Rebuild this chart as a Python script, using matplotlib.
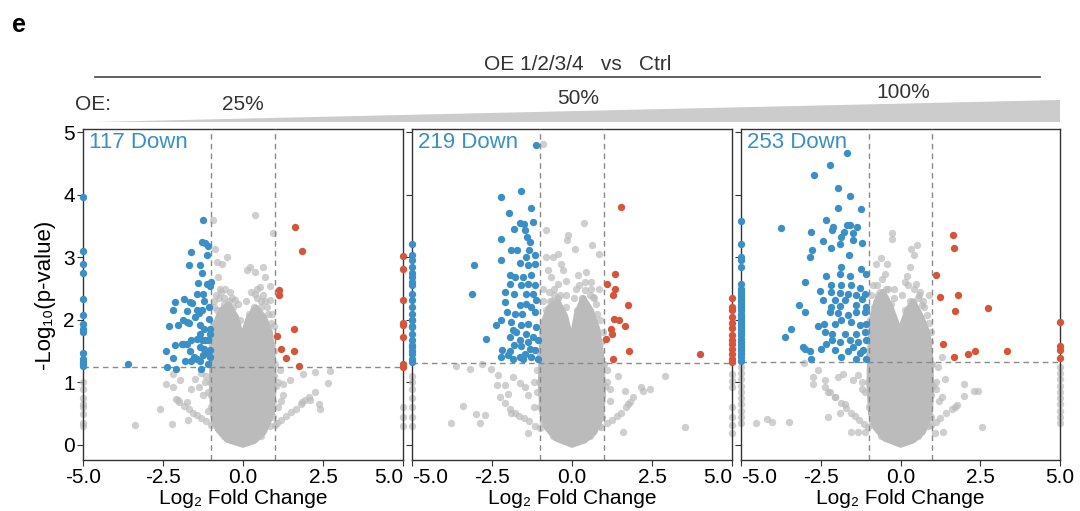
import numpy as np
import matplotlib
matplotlib.use("Agg")
import matplotlib.pyplot as plt
from matplotlib.patches import Polygon
from matplotlib.lines import Line2D

plt.rcParams["font.family"] = ["Liberation Sans", "DejaVu Sans"]

# colores
azul = "#3a8fc6"
rojo = "#d6553a"
gris = "#bbbbbb"
gris_linea = "#8a8a8a"

# ---------------- datos (leídos a ojo de la figura) ----------------
titulos = ["117 Down", "219 Down", "253 Down"]
umbral_y = [1.25, 1.31, 1.32]

# panel 1 (OE 25%)
p1_down_x = [-1.24, -1.29, -1.19, -1.09, -1.14, -1.63, -1.68, -1.35, -1.28, -1.40, -1.14, -1.03, -1.01,
             -1.45, -1.24, -1.22, -1.84, -2.14, -1.66, -1.58, -1.45, -1.38, -1.29, -1.06, -2.18, -1.74,
             -1.50, -1.06, -1.87, -1.74, -1.69, -2.31, -2.02, -1.35, -1.22, -1.03, -1.34, -1.03, -1.45,
             -1.29, -1.19, -1.09, -1.61, -1.87, -1.76, -1.92, -2.14, -1.35, -1.22, -1.03, -2.42, -1.66,
             -1.14, -2.20, -1.52, -1.45, -1.24, -1.02, -1.82, -1.61, -1.35, -1.09, -2.36, -2.08, -1.32,
             -3.59, -5, -5, -5, -5, -5, -5, -5, -5, -5, -5, -5, -5, -5, -5]
p1_down_y = [3.59, 3.24, 3.23, 3.18, 3.04, 3.09, 2.88, 2.88, 2.75, 2.59, 2.58, 2.54, 2.60,
             2.42, 2.42, 2.30, 2.33, 2.29, 2.29, 2.27, 2.15, 2.11, 2.15, 2.21, 2.15, 2.14,
             2.05, 2.02, 2.00, 1.97, 1.95, 1.90, 1.91, 1.91, 1.86, 1.86, 1.78, 1.78, 1.70,
             1.68, 1.68, 1.68, 1.68, 1.62, 1.62, 1.62, 1.60, 1.57, 1.54, 1.52, 1.50, 1.50,
             1.49, 1.39, 1.41, 1.38, 1.44, 1.41, 1.35, 1.35, 1.35, 1.30, 1.25, 1.22, 1.22,
             1.30, 3.97, 3.10, 2.90, 2.75, 2.33, 2.07, 1.93, 1.85, 1.80, 1.47, 1.38, 1.33, 1.30, 1.27]
p1_up_x = [1.61, 1.84, 1.11, 1.14, 1.60, 1.05, 1.19, 1.58, 1.33, 1.74, 5, 5, 5, 5, 5, 5, 5, 5]
p1_up_y = [3.49, 3.10, 2.48, 2.39, 1.86, 1.74, 1.53, 1.50, 1.39, 1.26, 3.02, 2.82, 2.31, 1.95, 1.91, 1.72, 1.30, 1.25]
p1_ns_x = [-0.93, 0.38, 0.95, -0.88, -0.51, -0.82, -0.67, 0.22, 0.11, 0.64, 0.38, 0.68, -0.77, 0.53, 0.85,
           0.38, -0.72, -0.41, -0.25, 0.85, 0.74, -0.51, -0.72, -0.85, -0.60, 0.20, 0.55, 0.90, -0.90, 0.45,
           -0.95, -0.98, -0.96, -0.99, 0.96, 0.97, 0.98, 0.94, -0.10, 0.05, -0.30, 0.30,
           -0.90, -0.70, -0.55, -0.35, -0.15, 0.10, 0.25, 0.45, 0.62, 0.78, 0.88, 0.90, 1.00, 1.02, 0.95,
           0.85, 0.55, -0.60, -0.90, -1.00, -1.02, -1.00, -0.95, -0.80, -0.60, 0.55, 0.35, -0.45, 0.00,
           -0.10, 0.10, 1.10, -1.10, -1.20, 1.20, -0.25, 0.20, 0.70, -0.75,
           -2.18, -2.42, -2.18, -1.97, -1.64, -1.37, -1.24, -1.76, -2.02, -2.60, -3.38, -2.21, -1.71, 1.26,
           1.47, 1.89, 2.25, 2.72, 2.67, 2.25, 2.10, 1.84, 2.39, 2.41, 1.26, 1.00, -1.15, -1.30, 1.15, 1.10,
           -1.10, -1.50,
           -1.00, -1.15, -1.30, -1.45, -1.56, -1.70, -1.85, -2.00, -2.10,
           1.05, 1.20, 1.35, 1.50, 1.65, 1.80, 1.95, 2.05,
           -5, -5, -5, -5, -5, -5, -5, -5, 5, 5, 5]
p1_ns_y = [3.59, 3.67, 3.39, 3.14, 3.00, 2.93, 2.90, 2.85, 2.79, 2.84, 2.77, 2.69, 2.69, 2.53, 2.54,
           2.42, 2.50, 2.45, 2.31, 2.31, 2.21, 2.21, 2.05, 2.40, 2.35, 2.10, 2.20, 2.10, 2.20, 2.35,
           1.95, 1.60, 1.20, 0.80, 1.90, 1.50, 1.10, 0.70, 2.00, 1.75, 2.20, 2.15,
           2.30, 2.45, 2.50, 2.35, 2.25, 2.30, 2.45, 2.50, 2.40, 2.10, 1.95, 1.60, 1.30, 0.95, 0.45,
           0.30, 0.15, 0.15, 0.35, 0.60, 1.00, 1.40, 1.75, 2.15, 2.25, 2.30, 2.20, 2.30, 1.80,
           1.60, 1.65, 1.00, 0.85, 1.00, 0.70, 2.05, 2.05, 2.30, 2.35,
           1.14, 0.98, 0.93, 1.04, 0.90, 0.93, 0.80, 0.69, 0.72, 0.57, 0.32, 0.33, 0.40, 0.98,
           1.04, 1.14, 1.17, 1.19, 0.99, 0.85, 0.72, 0.69, 0.66, 0.57, 0.80, 0.32, 1.10, 1.15, 1.20, 0.60,
           0.55, 1.05,
           0.32, 0.38, 0.43, 0.48, 0.51, 0.57, 0.63, 0.69, 0.73,
           0.35, 0.40, 0.46, 0.52, 0.58, 0.65, 0.72, 0.76,
           1.00, 0.90, 0.75, 0.65, 0.60, 0.50, 0.35, 0.30, 0.60, 0.45, 0.30]
# zona densa (contorno de la nube gris)
p1_core_x = [0, -0.5, -0.8, -0.93, -0.98, -0.96, -0.88, -0.7, -0.45, -0.22, -0.03, 0.15, 0.40, 0.65,
             0.85, 0.94, 0.96, 0.91, 0.65, 0.35]
p1_core_y = [0, 0.08, 0.25, 0.45, 0.9, 1.45, 1.9, 2.15, 2.25, 2.05, 1.7, 2.0, 2.2, 2.05,
             1.8, 1.4, 0.9, 0.5, 0.2, 0.06]

# panel 2 (OE 50%)
p2_down_x = [-1.14, -1.58, -2.21, -1.29, -1.98, -1.22, -1.81, -1.64, -1.51, -1.46, -1.40, -2.23, -1.32,
             -1.90, -1.73, -1.35, -1.43, -1.17, -2.21, -1.64, -1.38, -1.17, -3.07, -1.95, -1.79, -1.53,
             -1.27, -1.95, -1.58, -1.38, -1.17, -2.10, -1.81, -3.13, -1.43, -1.22, -1.11, -2.10, -1.64,
             -1.43, -1.27, -1.79, -2.04, -1.56, -1.17, -2.21, -2.39, -1.90, -1.58, -1.38, -1.11, -1.84,
             -1.74, -1.43, -1.95, -1.22, -2.70, -1.64, -1.38, -1.06, -1.82, -1.58, -1.32, -2.18, -1.95,
             -1.17, -1.46, -2.21, -2.00, -1.64, -1.27, -1.06, -1.53, -1.84,
             -5, -5, -5, -5, -5, -5, -5, -5, -5, -5, -5, -5, -5, -5, -5, -5, -5, -5, -5, -5, -5, -5, -5, -5]
p2_down_y = [4.79, 4.06, 3.97, 3.78, 3.70, 3.56, 3.45, 3.54, 3.53, 3.43, 3.32, 3.29, 3.24,
             3.11, 3.11, 3.11, 3.00, 3.03, 2.95, 2.91, 2.87, 2.90, 2.87, 2.71, 2.69, 2.69,
             2.71, 2.58, 2.55, 2.58, 2.55, 2.45, 2.42, 2.42, 2.42, 2.42, 2.31, 2.29, 2.23,
             2.26, 2.21, 2.10, 2.13, 2.10, 2.13, 1.99, 1.91, 1.97, 1.91, 1.94, 1.89, 1.84,
             1.81, 1.78, 1.73, 1.73, 1.69, 1.68, 1.65, 1.68, 1.60, 1.58, 1.54, 1.52, 1.51,
             1.52, 1.46, 1.41, 1.44, 1.40, 1.40, 1.38, 1.37, 1.38,
             3.22, 3.03, 2.85, 2.69, 2.55, 2.42, 2.31, 2.21, 1.99, 1.89, 1.78, 1.68, 1.57, 1.46, 1.38, 1.33,
             2.00, 2.10, 1.90, 1.60, 1.50, 2.60, 2.75, 2.95]
p2_up_x = [1.54, 1.33, 1.08, 1.35, 1.28, 1.75, 1.31, 1.46, 1.65, 1.21, 1.25, 1.07, 1.77, 1.28, 3.99,
           5, 5, 5, 5, 5, 5, 5, 5, 5, 5, 5, 5, 5]
p2_up_y = [3.80, 2.74, 2.58, 2.50, 2.39, 2.23, 2.02, 1.99, 1.90, 1.86, 1.77, 1.69, 1.51, 1.37, 1.45,
           2.35, 2.21, 2.15, 2.05, 1.95, 1.87, 1.75, 1.68, 1.62, 1.53, 1.45, 1.38, 1.33]
p2_ns_x = [-0.91, 0.36, -0.13, -0.80, -0.16, 0.08, 0.64, 0.83, -0.44, -0.59, -0.75, -0.80, -0.33, -0.28,
           -0.65, 0.19, 0.45, -0.18, -0.44, 0.14, 0.40, 0.66, 0.79, -0.90, -0.55, 0.85, 0.30, -0.20, 0.60,
           -0.95, -0.98, -0.96, 0.96, 0.97, 0.95,
           -0.90, -0.72, -0.55, -0.38, -0.20, 0.05, 0.22, 0.40, 0.58, 0.75, 0.88, 0.92, 1.00, 1.02, 0.95,
           0.85, 0.55, -0.60, -0.90, -1.00, -1.02, -1.00, -0.95, -0.80, -0.62, 0.55, 0.30, -0.45, 0.00,
           -0.10, 0.10, 1.10, -1.10, -1.20, 1.20, -0.30, 0.15, 0.70, -0.70,
           -3.61, -3.20, -2.54, -2.81, -2.31, -1.84, -2.33, -2.10, -1.64, -2.00, -1.48, -1.38, -3.41, -2.99,
           -2.71, -3.77, -2.89, -1.90, -1.38, 2.90, 2.17, 2.43, 2.22, 1.65, 1.75, 1.59, 3.52, 0.60, 1.20,
           1.10, -1.10, 1.45, -1.20,
           -1.00, -1.17, -1.35, -1.50, -1.65, -1.79, -1.95, -2.10, -2.26,
           0.92, 1.10, 1.25, 1.40, 1.54, 1.68, 1.80, 1.91,
           -5, -5, -5, -5, -5, -5, -5, 5, 5, 5, 5, 5, 5, 5]
p2_ns_y = [4.81, 3.55, 3.35, 3.43, 3.27, 3.14, 3.19, 3.05, 3.06, 3.00, 2.79, 3.00, 2.90, 2.79,
           2.69, 2.71, 2.77, 2.62, 2.58, 2.50, 2.47, 2.36, 2.10, 2.50, 2.40, 2.50, 2.30, 2.40, 2.60,
           1.90, 1.40, 0.90, 1.80, 1.30, 0.80,
           2.30, 2.45, 2.50, 2.40, 2.20, 2.35, 2.55, 2.60, 2.50, 2.25, 2.00, 1.65, 1.30, 0.95, 0.45,
           0.30, 0.15, 0.15, 0.35, 0.60, 1.00, 1.45, 1.80, 2.15, 2.30, 2.40, 2.35, 2.35, 1.70,
           1.55, 1.75, 1.00, 0.85, 1.00, 0.70, 2.10, 2.15, 2.35, 2.30,
           1.27, 1.21, 1.22, 1.29, 1.12, 1.09, 0.96, 0.96, 0.99, 0.82, 0.93, 0.80, 0.62, 0.49,
           0.48, 0.35, 0.35, 0.51, 0.19, 1.11, 0.93, 0.90, 0.86, 0.87, 0.66, 0.21, 0.28, 1.05, 0.90,
           1.20, 1.20, 1.10, 0.60,
           0.27, 0.31, 0.38, 0.43, 0.47, 0.51, 0.58, 0.67, 0.77,
           0.29, 0.35, 0.40, 0.46, 0.51, 0.60, 0.68, 0.77,
           1.10, 1.00, 0.90, 0.75, 0.60, 0.45, 0.30, 1.14, 1.03, 0.93, 0.60, 0.45, 0.32, 0.19]
p2_core_x = [0, -0.5, -0.8, -0.93, -0.98, -0.96, -0.9, -0.72, -0.45, -0.2, -0.02, 0.15, 0.35, 0.6,
             0.8, 0.93, 0.97, 0.93, 0.7, 0.4]
p2_core_y = [0, 0.1, 0.28, 0.5, 0.95, 1.5, 1.95, 2.2, 2.3, 2.05, 1.65, 2.1, 2.35, 2.15,
             1.85, 1.4, 0.9, 0.45, 0.2, 0.07]

# panel 3 (OE 100%)
p3_down_x = [-1.67, -2.20, -2.71, -1.97, -1.57, -1.95, -1.24, -3.75, -2.32, -2.11, -2.14, -1.69, -1.59,
             -1.35, -1.85, -1.50, -1.77, -2.79, -2.43, -1.90, -1.50, -1.22, -2.17, -2.76, -1.61, -2.84,
             -1.85, -2.32, -1.90, -1.57, -1.24, -1.07, -2.98, -2.17, -1.85, -1.54, -1.27, -2.51, -2.18,
             -1.90, -1.64, -1.38, -1.12, -2.43, -2.06, -1.75, -1.22, -3.19, -2.18, -1.90, -1.38, -1.07,
             -2.98, -2.22, -1.95, -1.64, -1.38, -1.12, -2.60, -2.39, -2.06, -1.85, -1.54, -1.27, -1.07,
             -3.42, -2.37, -2.16, -1.75, -1.38, -1.12, -3.63, -2.16, -1.90, -1.59, -1.33, -1.07, -2.32,
             -3.07, -2.48, -1.48, -1.17, -2.83, -3.00, -2.06, -1.64, -1.27, -1.85, -2.79, -1.38, -1.07,
             -5, -5, -5, -5, -5, -5, -5, -5, -5, -5, -5, -5, -5, -5, -5, -5, -5, -5, -5, -5, -5, -5, -5,
             -5, -5, -5, -5, -5, -5, -5]
p3_down_y = [4.66, 4.48, 4.32, 4.11, 3.98, 3.79, 3.77, 3.46, 3.60, 3.49, 3.43, 3.51, 3.51,
             3.49, 3.32, 3.38, 3.40, 3.41, 3.26, 3.21, 3.28, 3.23, 3.15, 3.12, 3.04, 3.01,
             2.85, 2.70, 2.73, 2.70, 2.81, 2.73, 2.60, 2.55, 2.55, 2.55, 2.51, 2.46, 2.44,
             2.43, 2.42, 2.39, 2.42, 2.31, 2.32, 2.31, 2.34, 2.23, 2.21, 2.22, 2.23, 2.21,
             2.13, 2.13, 2.11, 2.07, 2.13, 2.13, 1.90, 1.94, 1.94, 1.99, 1.97, 1.91, 1.94,
             1.85, 1.81, 1.78, 1.78, 1.78, 1.81, 1.72, 1.68, 1.65, 1.68, 1.65, 1.68, 1.61,
             1.57, 1.54, 1.57, 1.52, 1.51, 1.53, 1.52, 1.51, 1.47, 1.41, 1.37, 1.38, 1.38,
             3.58, 3.21, 3.01, 2.95, 2.84, 2.58, 2.50, 2.45, 2.40, 2.35, 2.30, 2.25, 2.20, 2.15, 2.10,
             2.05, 2.00, 1.95, 1.90, 1.85, 1.80, 1.75, 1.70, 1.65, 1.60, 1.55, 1.50, 1.45, 1.40, 1.35]
p3_up_x = [1.66, 1.68, 1.12, 1.24, 1.81, 2.75, 1.70, 1.34, 2.33, 2.12, 3.34, 1.68, 5, 5, 5, 5]
p3_up_y = [3.36, 3.15, 2.72, 2.36, 2.39, 2.19, 2.14, 1.62, 1.51, 1.45, 1.50, 1.41, 1.96, 1.58, 1.52, 1.39]
p3_ns_x = [-0.28, -0.26, 0.53, 0.33, 0.43, -0.60, -0.41, -0.77, 0.29, -0.49, 0.19, 0.14, 0.50, 0.89,
           0.66, 0.82, -0.85, -0.20, 0.60, -0.70,
           -0.95, -0.98, -0.96, 0.96, 0.97, 0.95,
           -0.92, -0.75, -0.58, -0.40, -0.20, 0.05, 0.22, 0.42, 0.58, 0.75, 0.88, 0.92, 1.00, 1.02, 0.95,
           0.85, 0.55, -0.60, -0.90, -1.00, -1.02, -1.00, -0.95, -0.82, -0.65, 0.55, 0.30, -0.45, 0.00,
           -0.10, 0.10, 1.10, -1.10, -1.20, 1.20, -0.30, 0.15, 0.70, -0.70,
           -3.03, -2.74, -2.74, -2.37, -1.95, -1.79, -1.48, -1.33, -2.27, -2.06, -1.75, -1.90, -2.27,
           -4.53, -4.20, -4.04, -3.50, -1.54, -1.33, -1.12, 1.18, 1.39, 1.99, 1.29, 2.00, 2.31, 2.43,
           1.70, 2.54, 1.34, 1.08, -1.20, 1.10, -2.60, 1.30,
           -1.01, -1.15, -1.30, -1.42, -1.54, -1.70, -1.85, -2.06, -2.20, -2.37,
           0.97, 1.10, 1.25, 1.44, 1.60, 1.76,
           -5, -5, -5, -5, -5, -5, -5, -5, -5, -5, 5, 5, 5, 5, 5, 5, 5, 5, 5, 5]
p3_ns_y = [3.39, 3.29, 3.20, 3.14, 3.03, 2.99, 2.90, 2.89, 2.85, 2.74, 2.70, 2.61, 2.58, 2.39,
           2.23, 2.07, 2.55, 2.50, 2.45, 2.40,
           2.00, 1.40, 0.90, 1.80, 1.30, 0.80,
           2.40, 2.55, 2.65, 2.50, 2.35, 2.40, 2.55, 2.50, 2.40, 2.20, 1.95, 1.65, 1.30, 0.95, 0.45,
           0.30, 0.15, 0.15, 0.35, 0.60, 1.00, 1.45, 1.80, 2.20, 2.45, 2.35, 2.30, 2.50, 1.85,
           1.65, 1.80, 1.00, 0.85, 1.00, 0.70, 2.25, 2.15, 2.30, 2.35,
           1.31, 1.09, 0.98, 1.04, 1.09, 1.14, 1.04, 1.12, 0.85, 0.77, 0.66, 0.51, 0.45,
           0.35, 0.41, 0.37, 0.37, 0.21, 0.20, 0.21, 1.25, 1.06, 0.98, 0.76, 0.78, 0.87, 0.87,
           0.60, 0.28, 0.21, 0.19, 0.90, 0.90, 1.20, 1.40,
           0.29, 0.34, 0.40, 0.46, 0.51, 0.59, 0.67, 0.77, 0.85, 0.93,
           0.32, 0.37, 0.43, 0.51, 0.58, 0.64,
           1.25, 1.15, 1.05, 0.95, 0.85, 0.75, 0.65, 0.55, 0.45, 0.35,
           1.25, 1.15, 1.05, 0.95, 0.85, 0.75, 0.65, 0.55, 0.45, 0.35]
p3_core_x = [0, -0.5, -0.8, -0.93, -0.98, -0.96, -0.9, -0.76, -0.55, -0.3, -0.02, 0.2, 0.4, 0.65,
             0.85, 0.94, 0.97, 0.92, 0.7, 0.4]
p3_core_y = [0, 0.1, 0.28, 0.5, 0.95, 1.5, 2.0, 2.3, 2.45, 2.2, 1.8, 2.15, 2.3, 2.05,
             1.8, 1.4, 0.9, 0.45, 0.2, 0.07]

paneles = [
    (p1_down_x, p1_down_y, p1_up_x, p1_up_y, p1_ns_x, p1_ns_y, p1_core_x, p1_core_y),
    (p2_down_x, p2_down_y, p2_up_x, p2_up_y, p2_ns_x, p2_ns_y, p2_core_x, p2_core_y),
    (p3_down_x, p3_down_y, p3_up_x, p3_up_y, p3_ns_x, p3_ns_y, p3_core_x, p3_core_y),
]

# posiciones de ejes (px de la figura)
W, H = 1080, 511
cajas_px = [(83, 403), (412, 732), (741, 1060)]
top_px, bot_px = 129, 460
punto = 28
fs = 15


def dibujar_panel(ax, datos, titulo, umbral, idx):
    dx, dy, ux, uy, nx, ny, cx, cy = datos
    ax.add_patch(Polygon(np.column_stack([cx, cy]), closed=True, facecolor=gris,
                         edgecolor=gris, lw=4, joinstyle="round", zorder=1))
    ax.scatter(nx, ny, s=punto, color=gris, alpha=0.7, lw=0, zorder=2, clip_on=False)
    for v in (-1, 1):
        ax.axvline(v, color=gris_linea, ls=(0, (4, 3)), lw=1, zorder=3)
    ax.axhline(umbral, color=gris_linea, ls=(0, (4, 3)), lw=1, zorder=3)
    ax.scatter(dx, dy, s=punto, color=azul, lw=0, zorder=4, clip_on=False)
    ax.scatter(ux, uy, s=punto, color=rojo, lw=0, zorder=4, clip_on=False)
    ax.set_xlim(-5, 5)
    ax.set_ylim(-0.24, 5.05)
    ax.set_xticks([-5, -2.5, 0, 2.5, 5])
    ax.set_xticklabels(["-5.0", "-2.5", "0.0", "2.5", "5.0"])
    ax.set_yticks([0, 1, 2, 3, 4, 5])
    if idx > 0:
        ax.set_yticklabels([])
    ax.tick_params(labelsize=fs, length=4, width=0.8, color="#333333", pad=2)
    etiquetas = ax.get_xticklabels()
    # los extremos que tocan otro panel se corren hacia dentro
    if idx < 2:
        etiquetas[-1].set_ha("right")
    if idx > 0:
        etiquetas[0].set_ha("left")
    for s in ax.spines.values():
        s.set_color("#333333")
        s.set_linewidth(1)
    ax.set_xlabel("Log₂ Fold Change", fontsize=fs, labelpad=1)
    ax.text(0.02, 0.99, titulo, transform=ax.transAxes, color=azul, fontsize=fs + 1,
            ha="left", va="top", zorder=5)


fig = plt.figure(figsize=(W / 100, H / 100), dpi=100)
for i, (l, r) in enumerate(cajas_px):
    ax = fig.add_axes([l / W, 1 - bot_px / H, (r - l) / W, (bot_px - top_px) / H])
    dibujar_panel(ax, paneles[i], titulos[i], umbral_y[i], i)
    if i == 0:
        ax.set_ylabel("-Log₁₀(p-value)", fontsize=fs + 1, labelpad=6)

# cabecera
txt = "#333333"
fig.text(12 / W, 1 - 25 / H, "e", fontsize=18, fontweight="bold", ha="left", va="center")
fig.text(578 / W, 1 - 65 / H, "OE 1/2/3/4   vs   Ctrl", fontsize=15, color=txt,
         ha="center", va="center")
fig.add_artist(Line2D([95 / W, 1040 / W], [1 - 77 / H, 1 - 77 / H], color="#444444", lw=1.2))
fig.text(75 / W, 1 - 104 / H, "OE:", fontsize=15, color=txt, ha="left", va="center")
fig.text(243 / W, 1 - 104 / H, "25%", fontsize=15, color=txt, ha="center", va="center")
fig.text(578 / W, 1 - 98 / H, "50%", fontsize=15, color=txt, ha="center", va="center")
fig.text(903 / W, 1 - 92 / H, "100%", fontsize=15, color=txt, ha="center", va="center")
fig.add_artist(Polygon([[95 / W, 1 - 122 / H], [1060 / W, 1 - 100 / H], [1060 / W, 1 - 122 / H]],
                       closed=True, facecolor="#cccccc", edgecolor="none", transform=fig.transFigure))

fig.savefig("out.png", dpi=100)
